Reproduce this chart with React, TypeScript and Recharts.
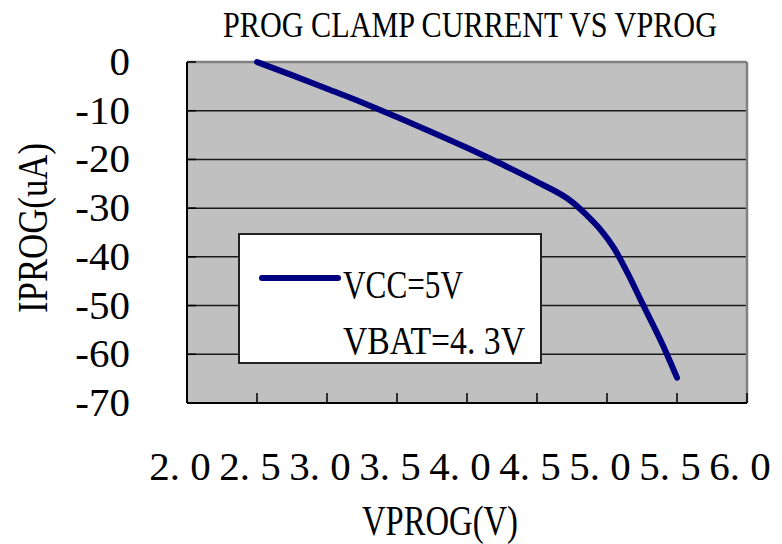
import React from "react";
import {CartesianGrid, Customized, Label, Legend, Line, LineChart, ReferenceLine, XAxis, YAxis} from "recharts";

// values
const vprog = [2.5, 2.75, 3.0, 3.25, 3.5, 3.75, 4.0, 4.25, 4.5, 4.75, 4.85, 4.95, 5.05, 5.15, 5.25, 5.4, 5.5];
const iprog = [0, -2.7, -5.5, -8.3, -11.3, -14.4, -17.6, -21, -24.6, -28.7, -31.3, -34.3, -38.2, -43.5, -49.4, -58.2, -64.8];
const xTicks = [2.0, 2.5, 3.0, 3.5, 4.0, 4.5, 5.0, 5.5, 6.0];
const yTicks = [0, -10, -20, -30, -40, -50, -60, -70];
const seriesName = "VCC=5V";
const seriesNote = "VBAT=4. 3V";

const data = vprog.map((v, i) => ({v, i: iprog[i]}));

const FONT = "'Liberation Serif', 'DejaVu Serif', serif";

const XTick = (props: any) => {
    const {x, y, payload} = props;
    const s = payload.value.toFixed(1).replace(".", ". ");
    return <g>
        <line x1={x} y1={y} x2={x} y2={y - 10} stroke="#000" strokeWidth={1.5}/>
        <text x={x - 7} y={y + 77} textAnchor="middle" fontFamily={FONT} fontSize={41} fill="#000">{s}</text>
    </g>;
};

const YTick = (props: any) => {
    const {x, y, payload} = props;
    return <g>
        <line x1={x} y1={y} x2={x + 9} y2={y} stroke="#000" strokeWidth={1.5}/>
        <text x={x - 57} y={y + 13} textAnchor="end" fontFamily={FONT} fontSize={41} fill="#000">{payload.value}</text>
    </g>;
};

const LegendBox = (props: any) => {
    const color = props.payload && props.payload[0] ? props.payload[0].color : "#000080";
    return <svg width={304} height={131} style={{display: "block"}}>
        <rect x={1} y={1} width={302} height={129} fill="#fff" stroke="#222" strokeWidth={2}/>
        <line x1={24} y1={45} x2={100} y2={45} stroke={color} strokeWidth={6} strokeLinecap="round"/>
        <text x={105} y={65} fontFamily={FONT} fontSize={40} fill="#000" textLength={120} lengthAdjust="spacingAndGlyphs">{seriesName}</text>
        <text x={105} y={121} fontFamily={FONT} fontSize={40} fill="#000" textLength={182} lengthAdjust="spacingAndGlyphs">{seriesNote}</text>
    </svg>;
};

const Title = () => <text x={470} y={37} textAnchor="middle" fontFamily={FONT} fontSize={36} fill="#000"
                          textLength={494} lengthAdjust="spacingAndGlyphs">PROG CLAMP CURRENT VS  VPROG</text>;

export default function App() {
    return <div style={{position: "absolute", left: 0, top: 0}}>
        <LineChart width={782} height={544} data={data} margin={{top: 62, right: 35, left: 0, bottom: 0}}>
            <CartesianGrid vertical={false} stroke="#1a1a1a" strokeWidth={1.5} fill="#c0c0c0" fillOpacity={1}/>
            <XAxis dataKey="v" type="number" domain={[2, 6]} ticks={xTicks} interval={0} height={141}
                   axisLine={{stroke: "#000", strokeWidth: 2}} tickLine={false} tickSize={0} tickMargin={0}
                   tick={<XTick/>}>
                <Label content={(p: any) => {
                    const vb = p.viewBox;
                    return <text x={vb.x + vb.width / 2 - 27} y={vb.y + 132} textAnchor="middle" fontFamily={FONT}
                                 fontSize={42} fill="#000" textLength={156} lengthAdjust="spacingAndGlyphs">VPROG(V)</text>;
                }}/>
            </XAxis>
            <YAxis type="number" domain={[-70, 0]} ticks={yTicks} interval={0} width={187}
                   axisLine={{stroke: "#000", strokeWidth: 2}} tickLine={false} tickSize={0} tickMargin={0}
                   tick={<YTick/>}>
                <Label content={() => <text transform="translate(47,228) rotate(-90)" textAnchor="middle"
                                            fontFamily={FONT} fontSize={43} fill="#000" textLength={170}
                                            lengthAdjust="spacingAndGlyphs">IPROG(uA)</text>}/>
            </YAxis>
            <ReferenceLine y={0} stroke="#808080" strokeWidth={2.5}/>
            <ReferenceLine x={6} stroke="#808080" strokeWidth={2.5}/>
            <Line type="monotone" dataKey="i" name={seriesName} stroke="#000080" strokeWidth={6}
                  strokeLinecap="round" dot={false} isAnimationActive={false}/>
            <Legend layout="horizontal" verticalAlign="middle" align="center" content={<LegendBox/>}
                    wrapperStyle={{left: 238, top: 233, width: 304, height: 131}}/>
            <Customized component={Title}/>
        </LineChart>
    </div>;
}
